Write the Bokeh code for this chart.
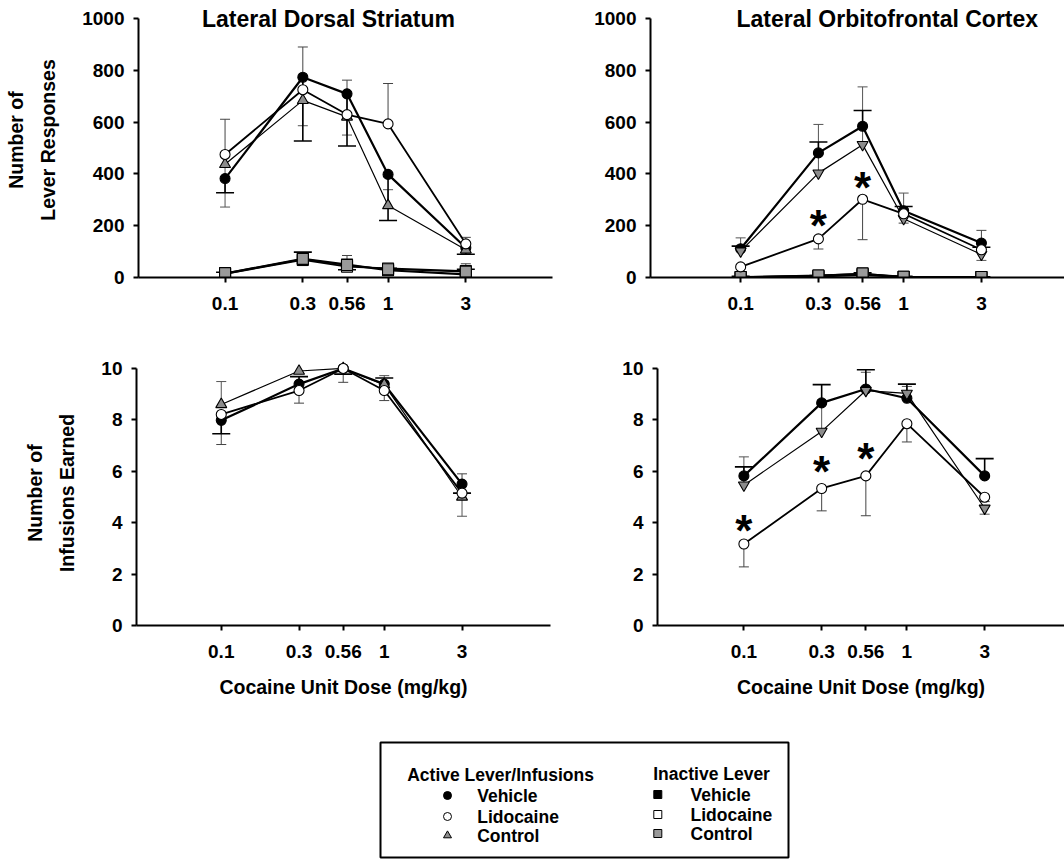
from bokeh.plotting import figure
from bokeh.layouts import column, row
from bokeh.models import Range1d, FixedTicker, CustomJSTickFormatter, Label
from bokeh.core.properties import value
from bokeh.embed import file_html
from bokeh.resources import INLINE

FONT = "Liberation Sans"

# ---------------- data ----------------
doses = [0.1, 0.3, 0.56, 1, 3]

resp_ticks = [0, 200, 400, 600, 800, 1000]
inf_ticks = [0, 2, 4, 6, 8, 10]

# Lateral Dorsal Striatum - active lever responses (signed SEM: + up, - down)
lds_resp_veh = [382, 773, 709, 398, 115]
lds_resp_veh_err = [-55, -246, -201, -178, -25]
lds_resp_lido = [475, 725, 629, 593, 130]
lds_resp_lido_err = [136, 165, 133, 156, 25]
lds_resp_ctrl = [437, 684, 620, 278, 107]
lds_resp_ctrl_err = [-165, -98, -70, 61, -15]
# Lateral Dorsal Striatum - inactive lever
lds_inact_veh = [15, 72, 50, 28, 12]
lds_inact_veh_err = [5, 26, -20, 8, 20]
lds_inact_lido = [14, 68, 42, 35, 25]
lds_inact_lido_err = [5, -22, 43, -10, 28]
lds_inact_ctrl = [17, 72, 48, 32, 22]
lds_inact_ctrl_err = [5, 20, 15, 8, 10]

# Lateral Orbitofrontal Cortex - active lever responses
lofc_resp_veh = [111, 481, 584, 258, 133]
lofc_resp_veh_err = [10, 42, 61, 16, -16]
lofc_resp_lido = [41, 149, 302, 246, 107]
lofc_resp_lido_err = [0, -39, -156, -36, 75]
lofc_resp_ctrl = [102, 403, 513, 227, 89]
lofc_resp_ctrl_err = [51, 188, 223, 99, -23]
# Lateral Orbitofrontal Cortex - inactive lever
lofc_inact_veh = [2, 4, 10, 2, 1]
lofc_inact_veh_err = [3, 4, 8, 3, 2]
lofc_inact_lido = [1, 8, 14, 3, 2]
lofc_inact_lido_err = [2, 5, 8, 2, 2]
lofc_inact_ctrl = [2, 8, 16, 3, 2]
lofc_inact_ctrl_err = [2, 5, 6, 2, 2]

# Infusions earned
lds_inf_veh = [7.98, 9.39, 10.0, 9.39, 5.5]
lds_inf_veh_err = [-0.52, 0.29, -0.22, 0.24, -0.35]
lds_inf_lido = [8.21, 9.14, 10.0, 9.14, 5.15]
lds_inf_lido_err = [-1.17, -0.49, -0.54, -0.39, 0.75]
lds_inf_ctrl = [8.6, 9.9, 10.0, 9.37, 5.0]
lds_inf_ctrl_err = [0.89, 0, 0, 0.35, -0.75]

lofc_inf_veh = [5.82, 8.66, 9.2, 8.84, 5.82]
lofc_inf_veh_err = [0.35, 0.71, 0.75, 0.55, 0.67]
lofc_inf_lido = [3.17, 5.33, 5.82, 7.85, 4.99]
lofc_inf_lido_err = [-0.89, -0.87, -1.55, -0.71, -0.17]
lofc_inf_ctrl = [5.46, 7.55, 9.14, 9.03, 4.56]
lofc_inf_ctrl_err = [1.1, 1.07, 0.71, 0.27, -0.23]

# significance markers (lidocaine vs vehicle)
lofc_resp_sig_doses = [0.3, 0.56]
lofc_resp_sig_y = [220, 368]
lofc_inf_sig_doses = [0.1, 0.3, 0.56]
lofc_inf_sig_y = [3.88, 6.2, 6.7]

titles = ["Lateral Dorsal Striatum", "Lateral Orbitofrontal Cortex"]
title_x = [0.431, 0.794]
ylabel_resp = "Number of\nLever Responses"
ylabel_inf = "Number of\nInfusions Earned"
xlabel = "Cocaine Unit Dose (mg/kg)"
leg_titles = ["Active Lever/Infusions", "Inactive Lever"]
leg_labels = ["Vehicle", "Lidocaine", "Control"]

GREY_TRI = "#8c8c8c"
GREY_SQ = "#9a9a9a"

PXDEC = 163.0


def make_panel(fig_w, fig_h, frame_left, frame_w, log_start, y_top, y_bot, ymax,
               yticks, pad_top, ylabel=None, xlab=None):
    ppu = (y_bot - y_top) / ymax
    d = pad_top / ppu
    x0 = 10 ** log_start
    x1 = 10 ** (log_start + frame_w / PXDEC)
    frame_h = (y_bot - y_top) + pad_top
    top_b = y_top - pad_top
    p = figure(width=fig_w, height=fig_h, x_axis_type="log",
               x_range=Range1d(x0, x1), y_range=Range1d(0, ymax + d),
               min_border_left=frame_left,
               min_border_right=fig_w - frame_left - frame_w,
               min_border_top=top_b,
               min_border_bottom=fig_h - top_b - frame_h,
               output_backend="svg", toolbar_location=None)
    p.outline_line_color = None
    p.grid.visible = False
    p.background_fill_color = "white"
    p.border_fill_color = "white"
    for ax in (p.xaxis[0], p.yaxis[0]):
        ax.axis_line_width = 2
        ax.axis_line_color = "black"
        ax.major_tick_line_width = 2
        ax.major_tick_line_color = "black"
        ax.major_tick_in = 0
        ax.major_tick_out = 5
        ax.minor_tick_line_color = None
        ax.major_label_text_font = FONT
        ax.major_label_text_font_style = "bold"
        ax.major_label_text_font_size = "19px"
        ax.major_label_text_color = "black"
        ax.axis_label_text_font = FONT
        ax.axis_label_text_font_style = "bold"
        ax.axis_label_text_font_size = "19.5px"
        ax.axis_label_text_color = "black"
    p.xaxis.ticker = FixedTicker(ticks=doses)
    p.xaxis.formatter = CustomJSTickFormatter(code="return tick.toString();")
    p.xaxis.major_label_standoff = 14
    p.yaxis.ticker = FixedTicker(ticks=yticks)
    p.yaxis.bounds = (0, ymax)
    p.yaxis.major_label_standoff = 9
    if ylabel:
        p.yaxis.axis_label = ylabel
        p.yaxis.axis_label_standoff = 20
        p.yaxis.axis_label_text_line_height = 1.45
    if xlab:
        p.xaxis.axis_label = xlab
        p.xaxis.axis_label_standoff = 15
    return p


def draw_err(p, vals, errs, color, lw, cap):
    xs = [d for d, e in zip(doses, errs) if e != 0]
    y0 = [v for v, e in zip(vals, errs) if e != 0]
    y1 = [v + e for v, e in zip(vals, errs) if e != 0]
    p.segment(x0=xs, y0=y0, x1=xs, y1=y1, line_color=color, line_width=lw)
    p.scatter(x=xs, y=y1, marker="dash", size=cap, line_color=color, line_width=lw)


def draw_group(p, veh, veh_err, lido, lido_err, ctrl, ctrl_err, tri_marker, square=False):
    if square:
        mk = ["square", "square", "square"]
        fills = ["black", "white", GREY_SQ]
        size = 9
    else:
        mk = ["circle", "circle", tri_marker]
        fills = ["black", "white", GREY_TRI]
        size = 10
    draw_err(p, ctrl, ctrl_err, "#555555", 1, 10)
    draw_err(p, lido, lido_err, "#444444", 1, 10)
    draw_err(p, veh, veh_err, "black", 1.6, 18)
    p.line(doses, ctrl, line_color="black", line_width=1.2)
    p.line(doses, lido, line_color="black", line_width=1.8)
    p.line(doses, veh, line_color="black", line_width=2.2)
    if square:
        order = [(veh, 0), (lido, 1), (ctrl, 2)]
    else:
        order = [(veh, 0), (ctrl, 2), (lido, 1)]
    for vals, i in order:
        p.scatter(doses, vals, marker=mk[i], size=size if mk[i] != tri_marker else 11,
                  fill_color=fills[i], line_color="black", line_width=1.1)


def add_title(p, x, y, text):
    p.add_layout(Label(x=x, y=y, text=text, text_align="center", text_baseline="middle",
                       text_font=FONT, text_font_style="bold", text_font_size="23px",
                       text_color="black"))


def add_stars(p, xs, ys):
    p.text(x=xs, y=ys, text=["*"] * len(xs), text_font=value(FONT),
           text_font_style="bold", text_font_size="44px", text_align="center",
           text_baseline="middle", text_color="black", y_offset=5)


# ---------------- panels ----------------
tl = make_panel(560, 330, 138, 414, -1.531, 18, 277, 1000, resp_ticks, 16, ylabel=ylabel_resp)
draw_group(tl, lds_inact_veh, lds_inact_veh_err, lds_inact_lido, lds_inact_lido_err,
           lds_inact_ctrl, lds_inact_ctrl_err, "square", square=True)
draw_group(tl, lds_resp_veh, lds_resp_veh_err, lds_resp_lido, lds_resp_lido_err,
           lds_resp_ctrl, lds_resp_ctrl_err, "triangle")
add_title(tl, title_x[0], 1000, titles[0])

tr = make_panel(504, 330, 90, 414, -1.553, 18, 277, 1000, resp_ticks, 16)
draw_group(tr, lofc_inact_veh, lofc_inact_veh_err, lofc_inact_lido, lofc_inact_lido_err,
           lofc_inact_ctrl, lofc_inact_ctrl_err, "square", square=True)
draw_group(tr, lofc_resp_veh, lofc_resp_veh_err, lofc_resp_lido, lofc_resp_lido_err,
           lofc_resp_ctrl, lofc_resp_ctrl_err, "inverted_triangle")
add_stars(tr, lofc_resp_sig_doses, lofc_resp_sig_y)
add_title(tr, title_x[1], 1000, titles[1])

bl = make_panel(560, 390, 136, 414, -1.52, 38, 297, 10, inf_ticks, 8,
                ylabel=ylabel_inf, xlab=xlabel)
draw_group(bl, lds_inf_veh, lds_inf_veh_err, lds_inf_lido, lds_inf_lido_err,
           lds_inf_ctrl, lds_inf_ctrl_err, "triangle")

br = make_panel(504, 390, 97, 407, -1.53, 36, 295, 10, inf_ticks, 8, xlab=xlabel)
draw_group(br, lofc_inf_veh, lofc_inf_veh_err, lofc_inf_lido, lofc_inf_lido_err,
           lofc_inf_ctrl, lofc_inf_ctrl_err, "inverted_triangle")
add_stars(br, lofc_inf_sig_doses, lofc_inf_sig_y)

# ---------------- legend ----------------
leg = figure(width=1064, height=139, x_range=Range1d(380, 788), y_range=Range1d(857, 742),
             min_border_left=380, min_border_right=276, min_border_top=22, min_border_bottom=2,
             output_backend="svg", toolbar_location=None,
             x_axis_location=None, y_axis_location=None)
leg.grid.visible = False
leg.outline_line_color = "black"
leg.outline_line_width = 2
leg.background_fill_color = "white"
leg.border_fill_color = "white"

leg_title_pos = [(406.7, 774), (652.7, 773)]
leg_marker_x = [447, 657.3]
leg_text_x = [476.7, 690]
leg_rows_y = [[795, 816, 835], [794, 814, 833]]
leg_markers = [["circle", "circle", "triangle"], ["square", "square", "square"]]
leg_fills = [["black", "white", GREY_TRI], ["black", "white", GREY_SQ]]

for c in range(2):
    leg.text(x=[leg_title_pos[c][0]], y=[leg_title_pos[c][1]], text=[leg_titles[c]],
             text_font=value(FONT), text_font_style="bold", text_font_size="17.5px",
             text_align="left", text_baseline="middle", text_color="black")
    leg.text(x=[leg_text_x[c]] * 3, y=leg_rows_y[c], text=leg_labels,
             text_font=value(FONT), text_font_style="bold", text_font_size="17.5px",
             text_align="left", text_baseline="middle", text_color="black")
    for i in range(3):
        leg.scatter(x=[leg_marker_x[c]], y=[leg_rows_y[c][i]], marker=leg_markers[c][i],
                    size=8, fill_color=leg_fills[c][i], line_color="black", line_width=1)

layout = column(row(tl, tr), row(bl, br), leg)
open("out.html", "w").write(file_html(layout, INLINE))
